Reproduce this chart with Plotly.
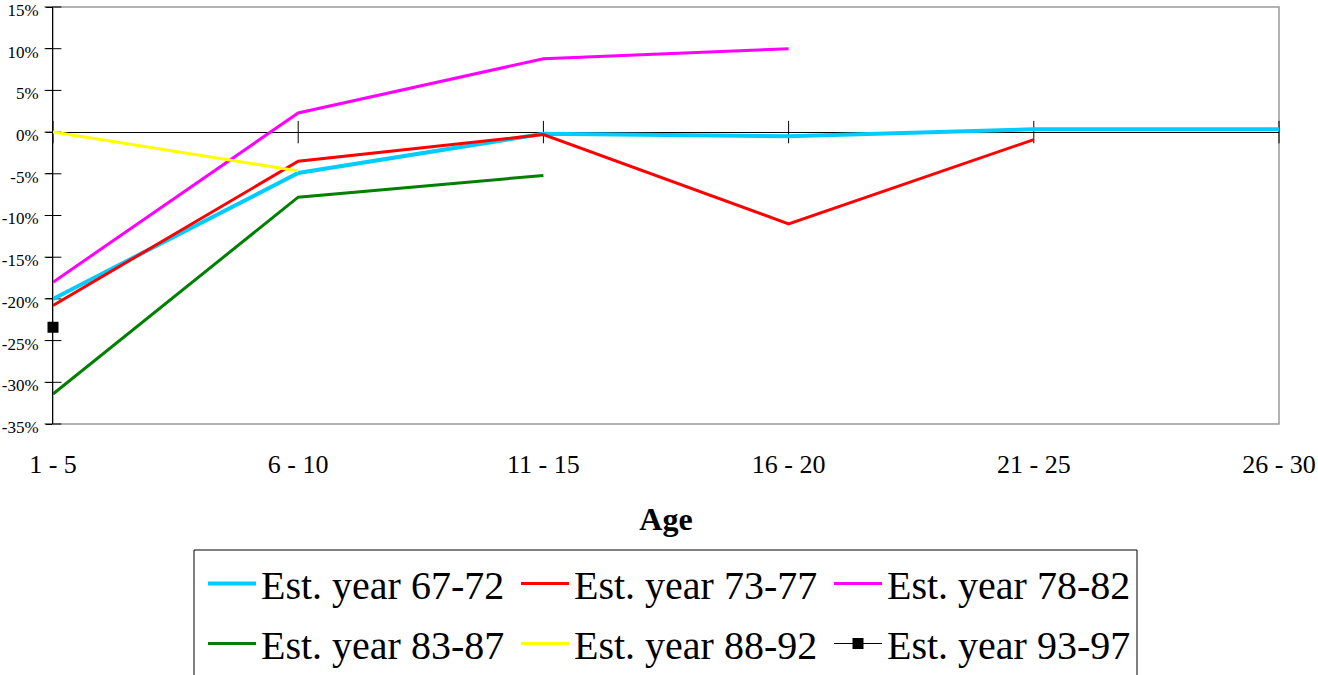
import plotly.graph_objects as go

# Age bands on the horizontal axis
age_bands = ["1 - 5", "6 - 10", "11 - 15", "16 - 20", "21 - 25", "26 - 30"]

# Percentage change per cohort (fractions); None where the cohort has no data
est_67_72 = [-0.200, -0.049, -0.002, -0.005, 0.0035, 0.0035]
est_73_77 = [-0.208, -0.035, -0.003, -0.110, -0.009, None]
est_78_82 = [-0.180, 0.023, 0.088, 0.100, None, None]
est_83_87 = [-0.314, -0.078, -0.052, None, None, None]
est_88_92 = [0.000, -0.0465, None, None, None, None]
est_93_97 = [-0.234, None, None, None, None, None]

# Y-axis ticks and their labels
y_tick_vals = [0.15, 0.10, 0.05, 0.0, -0.05, -0.10, -0.15, -0.20, -0.25, -0.30, -0.35]
y_tick_text = ["15%", "10%", "5%", "0%", "-5%", "-10%", "-15%", "-20%", "-25%", "-30%", "-35%"]

SERIF = "Liberation Serif, Times New Roman, serif"
W, H = 1318, 675
M_L, M_R, M_T, M_B = 53, 39, 7, 251
PLOT_W = W - M_L - M_R
PLOT_H = H - M_T - M_B

# (name, values, colour, width, legend row)
series = [
    ("Est. year 67-72", est_67_72, "#00CCFF", 4, "legend"),
    ("Est. year 73-77", est_73_77, "#FF0000", 3, "legend"),
    ("Est. year 78-82", est_78_82, "#FF00FF", 3, "legend"),
    ("Est. year 83-87", est_83_87, "#008000", 3, "legend2"),
    ("Est. year 88-92", est_88_92, "#FFFF00", 3, "legend2"),
]

fig = go.Figure()

# Crossing tick marks on the zero line at each age band
fig.add_trace(go.Scatter(
    x=age_bands, y=[0] * len(age_bands), mode="markers",
    marker=dict(symbol="line-ns", size=16, line=dict(color="black", width=1)),
    showlegend=False, hoverinfo="skip", cliponaxis=False,
))
# Inner half of the value-axis tick marks
fig.add_trace(go.Scatter(
    x=[age_bands[0]] * len(y_tick_vals), y=y_tick_vals, mode="markers",
    marker=dict(symbol="line-ew", size=12, line=dict(color="black", width=1)),
    showlegend=False, hoverinfo="skip", cliponaxis=False,
))

for name, vals, color, width, leg in series:
    fig.add_trace(go.Scatter(
        x=age_bands, y=vals, name=name, mode="lines",
        line=dict(color=color, width=width),
        cliponaxis=False, legend=leg,
    ))

fig.add_trace(go.Scatter(
    x=age_bands, y=est_93_97, name="Est. year 93-97", mode="lines+markers",
    line=dict(color="black", width=1),
    marker=dict(symbol="square", size=11, color="black"),
    cliponaxis=False, legend="legend2",
))

# Grey frame around the plotting area
fig.add_shape(type="rect", xref="paper", yref="paper", x0=0, y0=0, x1=1, y1=1,
              line=dict(color="#999999", width=1.5), layer="below")


def px_x(px):
    return (px - M_L) / PLOT_W


def px_y(py):
    return (H - M_B - py) / PLOT_H


# Border enclosing both legend rows (runs past the bottom edge)
fig.add_shape(type="rect", xref="paper", yref="paper",
              x0=px_x(194), x1=px_x(1137), y0=px_y(550), y1=px_y(705),
              line=dict(color="black", width=1), fillcolor="rgba(0,0,0,0)")

legend_common = dict(
    orientation="h",
    xref="container", yref="container",
    x=203 / W, xanchor="left", yanchor="top",
    font=dict(family=SERIF, size=40, color="black"),
    borderwidth=0, bgcolor="rgba(0,0,0,0)",
    itemwidth=48,
    entrywidth=250, entrywidthmode="pixels",
    traceorder="normal",
)

fig.update_layout(
    width=W, height=H,
    margin=dict(l=M_L, r=M_R, t=M_T, b=M_B, autoexpand=False),
    paper_bgcolor="white", plot_bgcolor="white",
    font=dict(family=SERIF, color="black"),
    showlegend=True,
    legend=dict(legend_common, y=1 - 551 / H),
    legend2=dict(legend_common, y=1 - 611 / H),
    xaxis=dict(
        type="category",
        categoryorder="array", categoryarray=age_bands,
        range=[0, len(age_bands) - 1],
        automargin=False,
        showgrid=False, zeroline=False, showline=False,
        ticks="outside", ticklen=17, tickcolor="rgba(0,0,0,0)",
        tickfont=dict(family=SERIF, size=26, color="black"),
        title=dict(text="<b>Age</b>", font=dict(family=SERIF, size=32, color="black"), standoff=29),
    ),
    yaxis=dict(
        range=[-0.35, 0.15],
        automargin=False,
        tickvals=y_tick_vals, ticktext=y_tick_text,
        showgrid=False,
        zeroline=True, zerolinecolor="black", zerolinewidth=1,
        showline=True, linecolor="black", linewidth=1,
        ticks="outside", ticklen=6, tickcolor="black", tickwidth=1,
        ticklabelstandoff=4, ticklabelshift=3, ticklabeloverflow="allow",
        tickfont=dict(family=SERIF, size=17, color="black"),
    ),
)

fig.write_html("out.html")
